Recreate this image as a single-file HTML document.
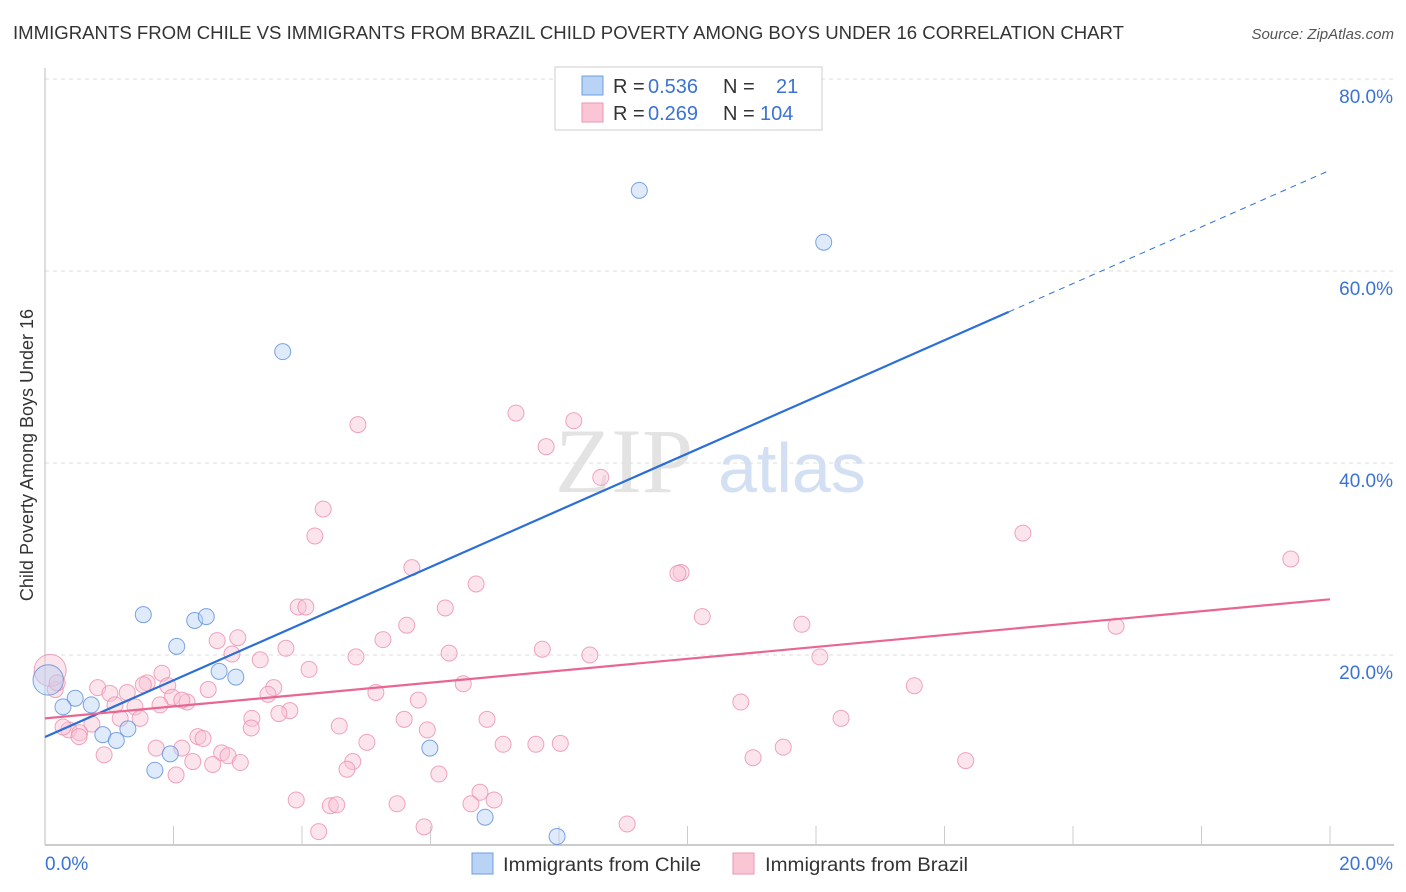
<!DOCTYPE html>
<html><head><meta charset="utf-8"><style>
body{margin:0;background:#fff;font-family:"Liberation Sans",sans-serif;}
#wrap{position:relative;width:1406px;height:892px;overflow:hidden;}
</style></head><body>
<div id="wrap">
<svg id="svg" width="1406" height="892">
<text x="13" y="39" font-size="18" fill="#333" textLength="1111" lengthAdjust="spacingAndGlyphs">IMMIGRANTS FROM CHILE VS IMMIGRANTS FROM BRAZIL CHILD POVERTY AMONG BOYS UNDER 16 CORRELATION CHART</text>
<text x="1394" y="39" font-size="15" fill="#555" font-style="italic" text-anchor="end">Source: ZipAtlas.com</text>
<text transform="translate(33,455) rotate(-90)" font-size="18" fill="#333" text-anchor="middle">Child Poverty Among Boys Under 16</text>
<text x="555" y="492" font-size="92" fill="#e3e3e3" font-family="Liberation Serif">ZIP</text>
<text x="718" y="492" font-size="70" fill="#d3e0f4">atlas</text>
<g id="grid"></g><g id="pts"></g><g id="lines"></g>
<g>
<rect x="555" y="67" width="267" height="63" fill="#fff" stroke="#ccc"/>
<rect x="582" y="76" width="21" height="19" fill="#b8d3f5" stroke="#6e9fe0"/>
<rect x="582" y="103" width="21" height="19" fill="#fac6d6" stroke="#ec97b2"/>
<text y="93" font-size="20" fill="#333"><tspan x="613">R = </tspan><tspan x="648" fill="#3b73d4">0.536</tspan><tspan x="723">N = </tspan><tspan x="776" fill="#3b73d4">21</tspan></text>
<text y="120" font-size="20" fill="#333"><tspan x="613">R = </tspan><tspan x="648" fill="#3b73d4">0.269</tspan><tspan x="723">N = </tspan><tspan x="760" fill="#3b73d4">104</tspan></text>
</g>
<g>
<rect x="472" y="853" width="21" height="21" fill="#b8d3f5" stroke="#6e9fe0"/>
<text x="503" y="871" font-size="19" fill="#333" textLength="198" lengthAdjust="spacingAndGlyphs">Immigrants from Chile</text>
<rect x="733" y="853" width="21" height="21" fill="#fac6d6" stroke="#ec97b2"/>
<text x="765" y="871" font-size="19" fill="#333" textLength="203" lengthAdjust="spacingAndGlyphs">Immigrants from Brazil</text>
</g>
</svg>
</div>
<script>
const yTicks=[20,40,60,80];
const xTickLabels=["0.0%","20.0%"];
const chileX=[9.25,12.12,3.70,1.53,2.33,2.51,2.05,2.71,2.97,0.05,0.47,0.28,0.72,0.90,1.11,1.29,1.95,1.71,5.99,6.85,7.97];
const chileY=[68.4,63.0,51.6,24.2,23.6,24.0,20.9,18.3,17.7,17.4,15.5,14.6,14.8,11.7,11.1,12.3,9.7,8.0,10.3,3.1,1.1];
const chileSize=[1,1,1,1,1,1,1,1,1,1.9,1,1,1,1,1,1,1,1,1,1,1];
const brazilX=[7.33,4.87,8.23,7.80,8.65,4.33,4.20,15.22,19.39,5.71,9.90,9.85,6.71,6.23,3.94,4.06,10.23,16.67,11.78,5.63,3.00,2.68,5.26,2.91,3.75,7.74,8.48,6.29,12.06,4.84,3.35,1.82,4.11,2.54,6.51,1.59,1.91,13.53,0.82,1.28,1.01,3.56,3.47,5.15,5.81,2.21,1.98,10.83,3.81,3.64,1.40,1.17,1.48,3.22,12.39,6.88,5.59,5.95,4.58,0.73,0.37,0.54,0.53,0.28,2.38,2.46,3.21,5.01,7.13,7.64,8.02,11.49,1.73,2.13,0.92,2.75,2.85,2.30,2.61,3.04,11.02,14.33,4.79,4.70,6.13,2.04,6.77,6.99,3.91,5.48,6.63,4.44,4.54,9.06,5.90,4.26,0.16,0.08,0.19,1.09,1.53,2.13,1.79];
const brazilY=[45.2,44.0,44.4,41.7,38.5,35.2,32.4,32.7,30.0,29.1,28.6,28.5,27.4,24.9,25.0,25.0,24.0,23.0,23.2,23.1,21.8,21.5,21.6,20.1,20.7,20.6,20.0,20.2,19.8,19.8,19.5,18.1,18.5,16.4,17.0,17.1,16.8,16.8,16.6,16.1,16.0,16.6,15.9,16.1,15.3,15.1,15.6,15.1,14.2,13.9,14.6,13.4,13.4,13.4,13.4,13.3,13.3,12.2,12.6,12.8,12.2,11.9,11.5,12.5,11.5,11.3,12.4,10.9,10.7,10.7,10.8,10.4,10.3,10.3,9.6,9.8,9.5,8.9,8.6,8.8,9.3,9.0,8.9,8.1,7.6,7.5,5.7,4.9,4.9,4.5,4.5,4.3,4.4,2.4,2.1,1.6,16.4,18.4,17.1,14.8,16.9,15.3,14.8];
const brazilSize=brazilX.map((_,i)=>i===97?2.0:1);
const chileFit=[11.46,70.5];
const brazilFit=[13.4,25.8];
const chileSolidEnd=15.0;

const X=v=>45+v*64.25, Y=v=>847-v*9.6;
const NS="http://www.w3.org/2000/svg";
function mk(tag,attrs,parent){const e=document.createElementNS(NS,tag);for(const k in attrs)e.setAttribute(k,attrs[k]);parent.appendChild(e);return e;}
const svg=document.getElementById('svg'),grid=document.getElementById('grid'),pts=document.getElementById('pts'),lines=document.getElementById('lines');
yTicks.forEach(t=>{
  const l=mk('line',{x1:45,x2:1394,y1:Y(t),y2:Y(t),stroke:'#ddd','stroke-dasharray':'4,4'},grid);
  
  
  const tx=mk('text',{x:1393,y:Y(t)+24,'font-size':19,fill:'#3b73d4','text-anchor':'end'},grid);
  tx.textContent=t.toFixed(1)+'%';
  
  
});
const ax=mk('line',{x1:45,x2:45,y1:68,y2:845,stroke:'#bbb'},grid);


const bx=mk('line',{x1:45,x2:1394,y1:845,y2:845,stroke:'#bbb','stroke-width':1.5},grid);


for(let i=1;i<=10;i++){const t=mk('line',{x1:X(i*2),x2:X(i*2),y1:826,y2:845,stroke:'#ccc'},grid);
  
  }
xTickLabels.forEach((s,i)=>{const t=mk('text',{x:i?1393:45,y:870,'font-size':19,fill:'#3b73d4','text-anchor':i?'end':'start'},grid);t.textContent=s;
  
  });
function draw(xs,ys,sz,fill,stroke,name){xs.forEach((x,i)=>{
  const c=mk('circle',{cx:X(x),cy:Y(ys[i]),r:8*sz[i],fill:fill,stroke:stroke,'fill-opacity':0.45,'stroke-opacity':0.8,'stroke-width':1},pts);
  
  });}
draw(brazilX,brazilY,brazilSize,'#f9c4d4','#eb8fae','brazil-point');
draw(chileX,chileY,chileSize,'#b7d1f4','#5b8fdc','chile-point');
const cy=x=>chileFit[0]+(chileFit[1]-chileFit[0])*x/20;
const l1=mk('line',{x1:X(0),y1:Y(cy(0)),x2:X(chileSolidEnd),y2:Y(cy(chileSolidEnd)),stroke:'#2b6fd6','stroke-width':2.2},lines);


const l2=mk('line',{x1:X(chileSolidEnd),y1:Y(cy(chileSolidEnd)),x2:X(20),y2:Y(cy(20)),stroke:'#2b6fd6','stroke-width':1,'stroke-dasharray':'6,5'},lines);


const l3=mk('line',{x1:X(0),y1:Y(brazilFit[0]),x2:X(20),y2:Y(brazilFit[1]),stroke:'#e8668f','stroke-width':2.2},lines);


</script>
</body></html>
